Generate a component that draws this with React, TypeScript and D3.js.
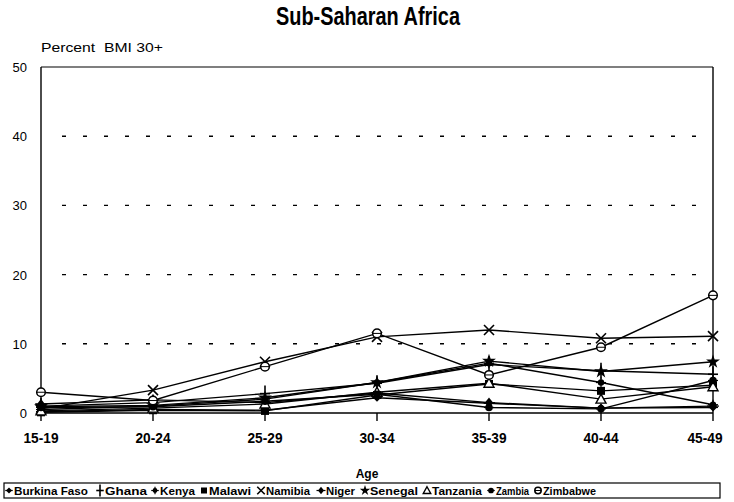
import React from "react";
import * as d3 from "d3";

const ages = ["15-19", "20-24", "25-29", "30-34", "35-39", "40-44", "45-49"];
const yTicks = [0, 10, 20, 30, 40, 50];
const gridTicks = [10, 20, 30, 40];

const burkinaFaso = [0.2, 0.5, 0.4, 2.2, 1.4, 0.7, 0.8];
const ghana = [1.0, 1.5, 2.8, 4.3, 7.0, 6.1, 5.6];
const kenya = [0.5, 1.0, 2.0, 4.4, 7.2, 4.4, 1.2];
const malawi = [0.1, 0.4, 0.3, 2.6, 4.2, 3.2, 4.0];
const namibia = [0.6, 3.3, 7.4, 11.0, 12.0, 10.8, 11.1];
const niger = [1.3, 1.9, 1.5, 2.9, 1.5, 0.7, 1.0];
const senegal = [0.9, 1.1, 2.2, 4.4, 7.5, 6.0, 7.4];
const tanzania = [0.3, 0.7, 1.3, 3.0, 4.3, 2.0, 3.8];
const zambia = [0.8, 0.9, 1.7, 2.7, 0.8, 0.6, 4.7];
const zimbabwe = [3.0, 1.8, 6.7, 11.5, 5.5, 9.5, 17.0];

const seriesNames = ["Burkina Faso", "Ghana", "Kenya", "Malawi", "Namibia", "Niger", "Senegal", "Tanzania", "Zambia", "Zimbabwe"];
const seriesValues = [burkinaFaso, ghana, kenya, malawi, namibia, niger, senegal, tanzania, zambia, zimbabwe];
const markerTypes = ["diamond", "plus", "asterisk", "square", "x", "nigerDiamond", "star", "openTriangle", "circle", "openCircle"];

const legendMarkerX = [9, 100, 155, 204, 261, 321, 365, 427, 491, 538];
const legendTextWidth = [74, 42, 35, 42, 44, 29, 48, 50, 33, 53];

function Marker({ type, x, y, s = 1 }: { type: string; x: number; y: number; s?: number }) {
  const k = "#000";
  switch (type) {
    case "diamond":
      return <g><path d={`M${x},${y - 4 * s}L${x + 4 * s},${y}L${x},${y + 4 * s}L${x - 4 * s},${y}Z`} fill={k} /><line x1={x - 5 * s} x2={x + 5 * s} y1={y} y2={y} stroke={k} strokeWidth={1.2} /></g>;
    case "plus":
      return <g stroke={k} strokeWidth={1.6}><line x1={x} x2={x} y1={y - 8 * s} y2={y + 8 * s} /><line x1={x - 5 * s} x2={x + 5 * s} y1={y} y2={y} /></g>;
    case "asterisk":
      return <g><circle cx={x} cy={y} r={3.2 * s} fill={k} /><g stroke={k} strokeWidth={1.2}><line x1={x - 5 * s} x2={x + 5 * s} y1={y} y2={y} /><line x1={x} x2={x} y1={y - 5 * s} y2={y + 5 * s} /></g></g>;
    case "square":
      return <rect x={x - 4 * s} y={y - 4 * s} width={8 * s} height={8 * s} fill={k} />;
    case "x":
      return <g stroke={k} strokeWidth={1.6}><line x1={x - 5 * s} x2={x + 5 * s} y1={y - 5 * s} y2={y + 5 * s} /><line x1={x - 5 * s} x2={x + 5 * s} y1={y + 5 * s} y2={y - 5 * s} /></g>;
    case "nigerDiamond":
      return <g><path d={`M${x},${y - 5 * s}L${x + 4 * s},${y}L${x},${y + 5 * s}L${x - 4 * s},${y}Z`} fill={k} /><line x1={x - 6 * s} x2={x + 6 * s} y1={y} y2={y} stroke={k} strokeWidth={1.2} /></g>;
    case "star": {
      const p = d3.symbol().type(d3.symbolStar).size(60 * s * s)();
      return <path d={p as string} transform={`translate(${x},${y})`} fill={k} />;
    }
    case "openTriangle":
      return <path d={`M${x},${y - 5 * s}L${x + 5 * s},${y + 4 * s}L${x - 5 * s},${y + 4 * s}Z`} fill="#fff" stroke={k} strokeWidth={1.4} />;
    case "circle":
      return <g><circle cx={x} cy={y} r={3.8 * s} fill={k} /><line x1={x - 5 * s} x2={x + 5 * s} y1={y} y2={y} stroke={k} strokeWidth={1.2} /></g>;
    case "openCircle":
      return <g><circle cx={x} cy={y} r={4.3 * s} fill="#fff" stroke={k} strokeWidth={1.5} /><line x1={x - 4 * s} x2={x + 4 * s} y1={y} y2={y} stroke={k} strokeWidth={1} /></g>;
    default:
      return null;
  }
}

export default function App() {
  const W = 734, H = 502;
  const left = 41, right = 713, top = 67, bottom = 413;
  const x = d3.scalePoint<string>().domain(ages).range([left, right]);
  const y = d3.scaleLinear().domain([0, 50]).range([bottom, top]);
  const line = d3.line<number>().x((_, i) => x(ages[i]) as number).y((d) => y(d));
  const font = "'Liberation Sans', Arial, Helvetica, sans-serif";
  const narrow = "'Liberation Sans Narrow', 'Arial Narrow', 'Liberation Sans', Arial, sans-serif";

  return (
    <svg width={W} height={H} style={{ position: "absolute", left: 0, top: 0, background: "#fff" }} fontFamily={font}>
      <rect width={W} height={H} fill="#fff" />
      <text x={368} y={25} textAnchor="middle" fontFamily={narrow} fontWeight="bold" fontSize={25} textLength={184} lengthAdjust="spacingAndGlyphs">Sub-Saharan Africa</text>
      <text x={41} y={52} fontSize={13} textLength={122} lengthAdjust="spacingAndGlyphs" xmlSpace="preserve">Percent  BMI 30+</text>

      {gridTicks.map((t) => (
        <line key={t} x1={left + 21} x2={right - 12} y1={y(t)} y2={y(t)} stroke="#000" strokeWidth={1.4} strokeDasharray="4,17" />
      ))}

      <line x1={left} x2={right} y1={top} y2={top} stroke="#000" strokeWidth={1.2} />
      <line x1={left} x2={left} y1={top} y2={bottom} stroke="#000" strokeWidth={1.4} />
      <line x1={right} x2={right} y1={top} y2={bottom} stroke="#000" strokeWidth={1.4} />
      <line x1={left} x2={right} y1={bottom} y2={bottom} stroke="#000" strokeWidth={1.4} />
      {ages.map((a) => (
        <line key={a} x1={x(a)} x2={x(a)} y1={bottom} y2={bottom + 8} stroke="#000" strokeWidth={1.4} />
      ))}

      {yTicks.map((t) => (
        <text key={t} x={27} y={y(t) + 5} textAnchor="end" fontSize={13}>{t}</text>
      ))}
      {ages.map((a, i) => (
        <text key={a} x={(x(a) as number) + (i === ages.length - 1 ? -8 : 0)} y={443} textAnchor="middle" fontSize={14} fontWeight="bold" fontFamily={narrow} textLength={35} lengthAdjust="spacingAndGlyphs">{a}</text>
      ))}
      <text x={367} y={478} textAnchor="middle" fontSize={12} fontWeight="bold" fontFamily={narrow}>Age</text>

      {seriesValues.map((vals, si) => (
        <path key={si} d={line(vals) as string} fill="none" stroke="#000" strokeWidth={1.4} />
      ))}
      {seriesValues.map((vals, si) => (
        <g key={si}>
          {vals.map((v, i) => (
            <Marker key={i} type={markerTypes[si]} x={x(ages[i]) as number} y={y(v)} />
          ))}
        </g>
      ))}

      <rect x={4} y={483} width={716} height={15} fill="none" stroke="#000" strokeWidth={1.2} />
      {seriesNames.map((n, i) => (
        <g key={n}>
          <Marker type={markerTypes[i]} x={legendMarkerX[i]} y={490.5} s={0.75} />
          <text x={legendMarkerX[i] + 5} y={495} fontSize={11} fontWeight="bold" fontFamily={narrow} textLength={legendTextWidth[i]} lengthAdjust="spacingAndGlyphs">{n}</text>
        </g>
      ))}
    </svg>
  );
}
